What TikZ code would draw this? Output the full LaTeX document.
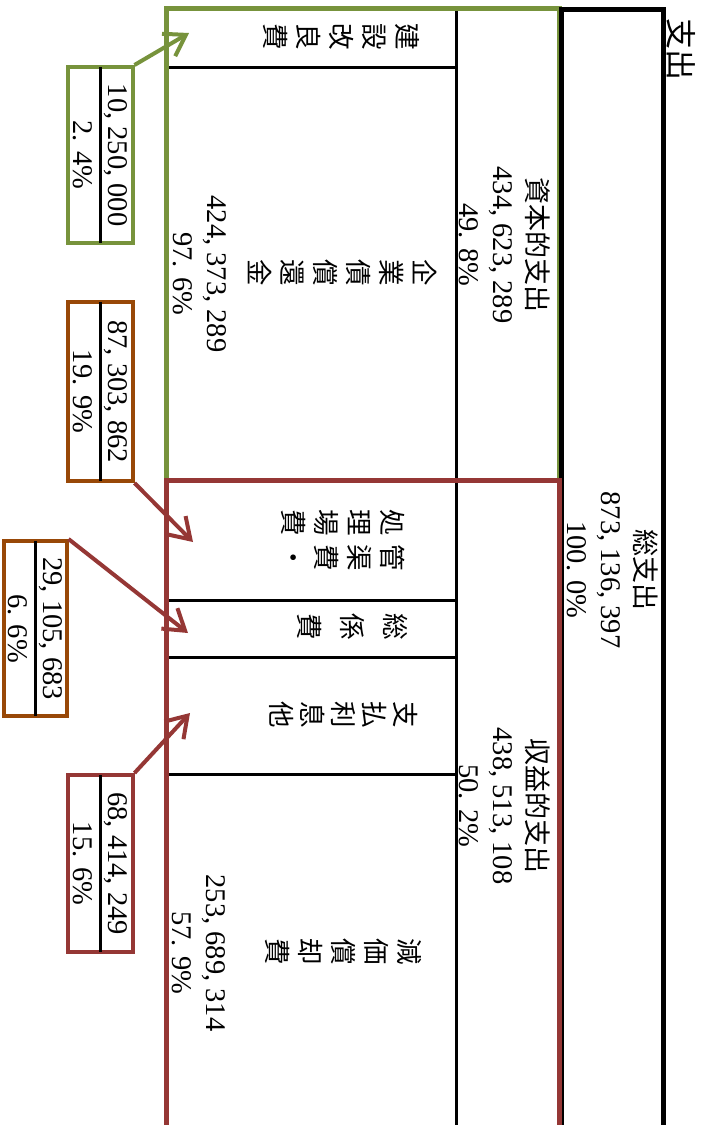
\documentclass[tikz,border=0pt]{standalone}
\usepackage{fontspec}
\usepackage{tikz}
\usetikzlibrary{arrows.meta}
\setmainfont{Liberation Serif}
\newfontfamily\jp{Noto Sans CJK JP}
\definecolor{capgreen}{HTML}{77933C}
\definecolor{revred}{HTML}{953735}
\definecolor{subbrown}{HTML}{984807}

\begin{document}
\begin{tikzpicture}[x=1pt,y=-1pt,
  chars/.style={rotate=-90,align=center,inner sep=0pt,font=\jp\fontsize{26.5}{33}\selectfont},
  nums/.style={rotate=-90,align=center,inner sep=0pt,font=\fontsize{28.5}{34}\selectfont},
  amount/.style={draw,line width=4pt,rotate=-90,minimum height=65pt,inner sep=0pt,align=center,font=\fontsize{28.5}{35}\selectfont},
  rule/.style={black,line width=3pt},
  divider/.style={rule,shorten <=2pt,shorten >=2pt},
  pointer/.style={line width=4pt,-{Straight Barb[length=20pt,width=26pt]}}]
  \useasboundingbox (0,0) rectangle (707,1125);

  \draw[rule] (456,8) -- (456,1125);
  \draw[rule] (166,67) -- (456,67);
  \draw[rule] (166,600) -- (456,600);
  \draw[rule] (166,657) -- (456,657);
  \draw[rule] (166,774) -- (456,774);
  \draw[capgreen,line width=5pt] (166,480) -- (166,8) -- (559,8) -- (559,480);
  \draw[black,line width=5pt] (561.5,1125) -- (561.5,9) -- (663.5,9) -- (663.5,1125);
  \draw[revred,line width=5pt] (166,1125) -- (166,480) -- (559,480) -- (559,1125);

  \node (title) at (681,49) [rotate=-90,inner sep=0pt,font=\jp\fontsize{31}{31}\selectfont] {支出};
  \node (total) at (613,570) [nums] {{\jp\fontsize{27}{34}\selectfont 総支出}\\873, 136, 397\\100. 0\%};
  \node (capital) at (505,245) [nums] {{\jp\fontsize{27}{34}\selectfont 資本的支出}\\434, 623, 289\\49. 8\%};
  \node (revenue) at (505,806) [nums] {{\jp\fontsize{27}{34}\selectfont 収益的支出}\\438, 513, 108\\50. 2\%};

  \node (kensetsu) at (341,37) [chars] {建\\設\\改\\良\\費};
  \node (kigyosai) at (343,273) [chars] {企\\業\\債\\償\\還\\金};
  \node (kigyosaiamt) at (200,274) [nums] {424, 373, 289\\97. 6\%};
  \node (shori) at (343,540) [chars] {処\hspace{9pt}管\\理\hspace{9pt}渠\\場\hspace{9pt}費\\費\hspace{9pt}・};
  \node (sokei) at (353,627) [chars,font=\jp\fontsize{26.5}{43}\selectfont] {総\\係\\費};
  \node (shiharai) at (344,715) [chars,font=\jp\fontsize{26.5}{31}\selectfont] {支\\払\\利\\息\\他};
  \node (genka) at (343,952) [chars] {減\\価\\償\\却\\費};
  \node (genkaamt) at (199,953) [nums] {253, 689, 314\\57. 9\%};

  \node (capamt) at (100,155) [amount,draw=capgreen,minimum width=176pt] {10, 250, 000\\2. 4\%};
  \node (plantamt) at (100,391.5) [amount,draw=subbrown,minimum width=179pt] {87, 303, 862\\19. 9\%};
  \node (adminamt) at (35,628.5) [amount,draw=subbrown,minimum width=175pt,minimum height=63pt] {29, 105, 683\\6. 6\%};
  \node (interestamt) at (100,863.5) [amount,draw=revred,minimum width=177pt] {68, 414, 249\\15. 6\%};
  \draw[divider] (capamt.west) -- (capamt.east);
  \draw[divider] (plantamt.west) -- (plantamt.east);
  \draw[divider] (adminamt.west) -- (adminamt.east);
  \draw[divider] (interestamt.west) -- (interestamt.east);

  \coordinate (kensetsutip) at (189,33);
  \coordinate (shoritip) at (193,542);
  \coordinate (sokeitip) at (188,633);
  \coordinate (shiharaitip) at (190,713);
  \draw[pointer,capgreen] (node cs:name=capamt,anchor=north west) -- (kensetsutip);
  \draw[pointer,revred] (node cs:name=plantamt,anchor=north east) -- (shoritip);
  \draw[pointer,revred] (node cs:name=adminamt,anchor=north west) -- (sokeitip);
  \draw[pointer,revred] (node cs:name=interestamt,anchor=north west) -- (shiharaitip);
\end{tikzpicture}
\end{document}
